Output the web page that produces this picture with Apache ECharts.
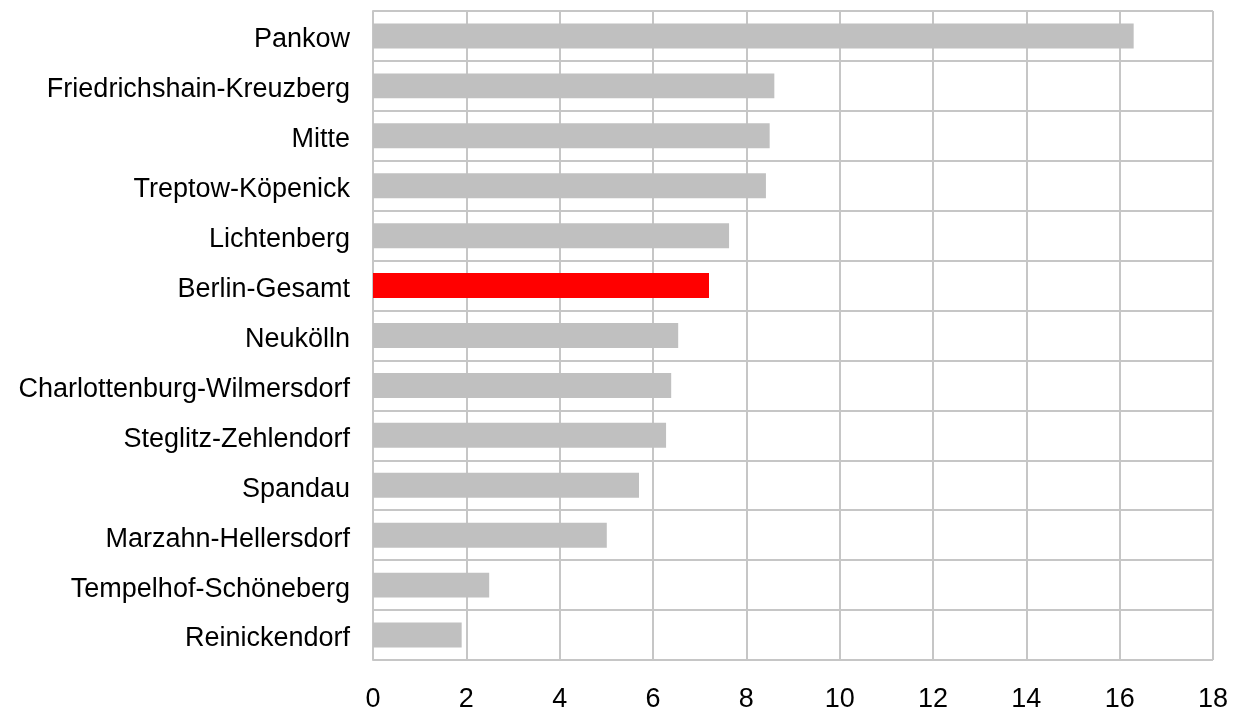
<!DOCTYPE html>
<html>
<head>
<meta charset="utf-8">
<script src="https://cdn.jsdelivr.net/npm/echarts@6/dist/echarts.min.js"></script>
<style>
  html, body { margin: 0; padding: 0; background: #fff; }
  #chart { width: 1245px; height: 713px; }
</style>
</head>
<body>
<div id="chart"></div>
<script>
// Districts, top to bottom as in the picture
const districts = [
  "Pankow",
  "Friedrichshain-Kreuzberg",
  "Mitte",
  "Treptow-Köpenick",
  "Lichtenberg",
  "Berlin-Gesamt",
  "Neukölln",
  "Charlottenburg-Wilmersdorf",
  "Steglitz-Zehlendorf",
  "Spandau",
  "Marzahn-Hellersdorf",
  "Tempelhof-Schöneberg",
  "Reinickendorf",
];
const values = [16.3, 8.6, 8.5, 8.42, 7.63, 7.2, 6.54, 6.39, 6.28, 5.7, 5.01, 2.49, 1.9];
const highlight = "Berlin-Gesamt";

const GRID_COLOR = "#c6c6c6";
const BAR_COLOR = "#c0c0c0";
const HIGHLIGHT_COLOR = "#ff0000";

const chart = echarts.init(document.getElementById("chart"));

chart.setOption({
  animation: false,
  textStyle: { fontFamily: "Liberation Sans, Arial, sans-serif" },
  grid: { left: 373, right: 32, top: 11, bottom: 53, containLabel: false },
  xAxis: {
    type: "value",
    min: 0,
    max: 18,
    interval: 2,
    axisLine: { show: false },
    axisTick: { show: false },
    axisLabel: { color: "#000", fontSize: 27, margin: 26 },
    splitLine: { show: true, lineStyle: { color: GRID_COLOR, width: 2 } },
  },
  yAxis: {
    type: "category",
    inverse: true,
    data: districts,
    axisLine: { show: true, lineStyle: { color: GRID_COLOR, width: 2 } },
    axisTick: { show: false },
    axisLabel: {
      margin: 23,
      // nudge the names a few pixels down, as in the source
      formatter: name => `{n|${name}}`,
      rich: { n: { color: "#000", fontSize: 27, padding: [8, 0, 0, 0] } },
    },
    splitLine: { show: true, lineStyle: { color: GRID_COLOR, width: 2 } },
  },
  series: [
    {
      type: "bar",
      barCategoryGap: "50%",
      data: values.map((v, i) => ({
        value: v,
        itemStyle: { color: districts[i] === highlight ? HIGHLIGHT_COLOR : BAR_COLOR },
      })),
    },
  ],
});
</script>
</body>
</html>
